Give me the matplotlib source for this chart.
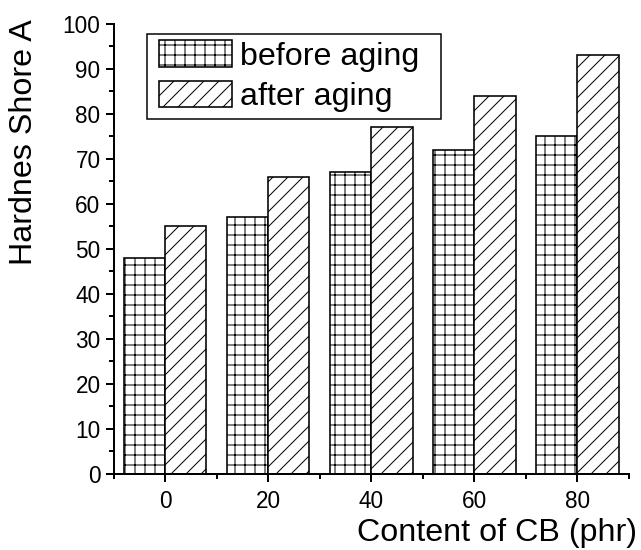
import matplotlib
matplotlib.use("Agg")
import matplotlib.pyplot as plt
import numpy as np
from matplotlib.ticker import MultipleLocator, FixedLocator
from matplotlib.legend_handler import HandlerPatch, update_from_first_child
from matplotlib.container import BarContainer

# data
cb_content = [0, 20, 40, 60, 80]
before_aging = [48, 57, 67, 72, 75]
after_aging = [55, 66, 77, 84, 93]

DPI = 180  # hatch unit = dpi pixels, so this sets hatch spacing
PX = 72.0 / DPI  # one pixel in points

plt.rcParams['font.family'] = ['Liberation Sans', 'DejaVu Sans']
plt.rcParams['hatch.linewidth'] = 1.0 * PX
plt.rcParams['hatch.color'] = 'black'

fig = plt.figure(figsize=(641 / DPI, 550 / DPI), dpi=DPI)
ax = fig.add_axes([0.1771, 0.1382, 0.8042, 0.8182])

x = np.array(cb_content, dtype=float)
w = 8
ax.bar(x - w / 2, before_aging, width=w, color='white', edgecolor='black',
       linewidth=1.6 * PX, hatch='+++', label='before aging')
ax.bar(x + w / 2, after_aging, width=w, color='white', edgecolor='black',
       linewidth=1.6 * PX, hatch='////', label='after aging')

ax.set_xlim(-10, 90)
ax.set_ylim(0, 100)
ax.spines['top'].set_visible(False)
ax.spines['right'].set_visible(False)
for sp in ['left', 'bottom']:
    ax.spines[sp].set_linewidth(2 * PX)

ax.set_xticks(cb_content)
ax.xaxis.set_minor_locator(FixedLocator([-10, 10, 30, 50, 70, 90]))
ax.yaxis.set_major_locator(MultipleLocator(10))
ax.yaxis.set_minor_locator(MultipleLocator(5))
ax.tick_params(which='major', length=8 * PX, width=2 * PX, labelsize=22.5 * PX,
               direction='out', color='black')
ax.tick_params(which='minor', length=5 * PX, width=2 * PX, direction='out')
ax.tick_params(axis='x', which='major', pad=8 * PX)
ax.tick_params(axis='y', which='major', pad=5 * PX)

lab_fs = 32.3 * PX
ax.set_xlabel('Content of CB (phr)', fontsize=lab_fs, ha='right', va='baseline')
ax.xaxis.set_label_coords(1.0155, -0.1490)
ax.set_ylabel('Hardnes Shore A', fontsize=lab_fs, va='center')
ax.yaxis.set_label_coords(-0.1736, 0.737)

# legend frame 147..441 px wide, top at 34 px
bar_handler = HandlerPatch(xpad=0.17, update_func=update_from_first_child)
leg = ax.legend(loc='upper left', bbox_to_anchor=(0.065, 0.5, 0.5703, 0.478),
                mode='expand', borderaxespad=0,
                fontsize=lab_fs, handlelength=2.43, handleheight=0.9,
                handletextpad=0.25, labelspacing=0.27, borderpad=0.2,
                fancybox=False, framealpha=1, edgecolor='black',
                handler_map={BarContainer: bar_handler})
leg.get_frame().set_linewidth(1.5 * PX)

fig.savefig('out.png', dpi=DPI)
